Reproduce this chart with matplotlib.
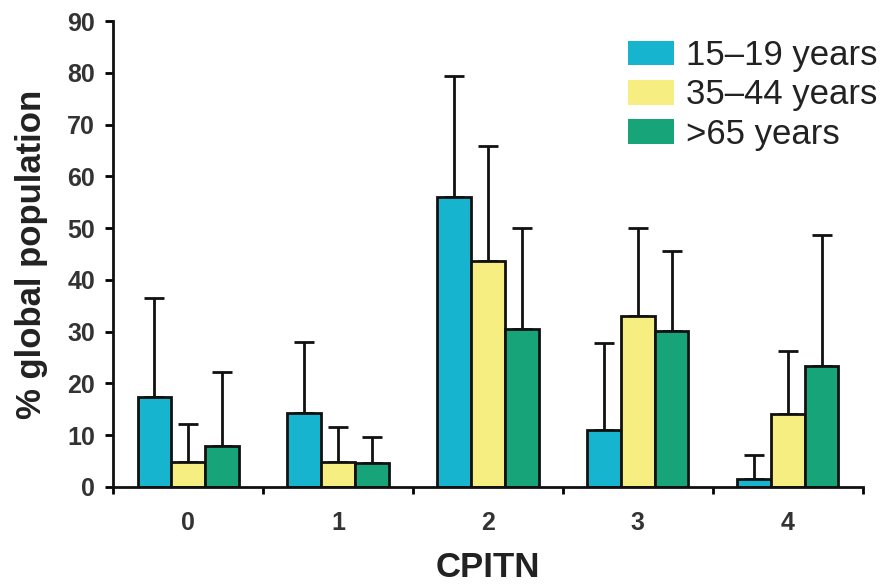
import matplotlib
matplotlib.use("Agg")
import matplotlib.pyplot as plt
import numpy as np
from matplotlib.patches import Patch

categories = ["0", "1", "2", "3", "4"]
series_names = ["15\u201319 years", "35\u201344 years", ">65 years"]
teen = [17.4, 14.3, 56.1, 11.1, 1.5]
teen_err = [19.1, 13.7, 23.2, 16.7, 4.7]
adult = [4.9, 4.75, 43.6, 33.1, 14.1]
adult_err = [7.3, 6.85, 22.2, 16.9, 12.1]
elder = [8.0, 4.6, 30.5, 30.2, 23.4]
elder_err = [14.3, 5.05, 19.5, 15.3, 25.3]
colors = ["#16b4cf", "#f6ee80", "#17a478"]

plt.rcParams['font.family'] = ['Liberation Sans', 'DejaVu Sans']
fig = plt.figure(figsize=(8.84, 5.86), dpi=100)
ax = fig.add_axes([0.128, 0.169, 0.848, 0.795])

x = np.arange(len(categories))
w = 0.225
vals = [teen, adult, elder]
errs = [teen_err, adult_err, elder_err]
for i, (v, e, c) in enumerate(zip(vals, errs, colors)):
    pos = x + (i - 1) * w
    ax.bar(pos, v, width=w, color=c, edgecolor="#111111", linewidth=2, zorder=2)
    ax.errorbar(pos, v, yerr=[np.zeros(len(v)), e], fmt="none", ecolor="#111111",
                elinewidth=2, capsize=7, capthick=2, zorder=1)

ax.set_xlim(-0.5, 4.5)
ax.set_ylim(0, 90)
ax.set_yticks(range(0, 91, 10))
ax.set_xticks(x)
ax.set_xticklabels(categories)
ax.set_xticks(np.arange(-0.5, 4.6, 1), minor=True)
ax.tick_params(axis="x", which="major", length=0, pad=17, labelsize=18)
ax.tick_params(axis="x", which="minor", length=5, width=2, direction="out")
ax.tick_params(axis="y", length=6, width=2, labelsize=18, pad=7)
for lbl in ax.get_xticklabels() + ax.get_yticklabels():
    lbl.set_fontweight("bold")
    lbl.set_color("#333333")
for s in ["top", "right"]:
    ax.spines[s].set_visible(False)
for s in ["left", "bottom"]:
    ax.spines[s].set_linewidth(2)
    ax.spines[s].set_color("#111111")

ax.set_xlabel("CPITN", fontsize=25, fontweight="bold", color="#222222", labelpad=12)
ax.set_ylabel("% global population", fontsize=25, fontweight="bold", color="#222222", labelpad=14)

handles = [Patch(facecolor=c, edgecolor="none") for c in colors]
leg = fig.legend(handles, series_names, loc="upper right", bbox_to_anchor=(1.0, 0.945),
                 frameon=False, fontsize=25, handlelength=1.33, handleheight=0.72,
                 handletextpad=0.32, labelspacing=0.18, borderaxespad=0.0, borderpad=0.2)
for t in leg.get_texts():
    t.set_color("#222222")

fig.savefig("out.png", dpi=100)
